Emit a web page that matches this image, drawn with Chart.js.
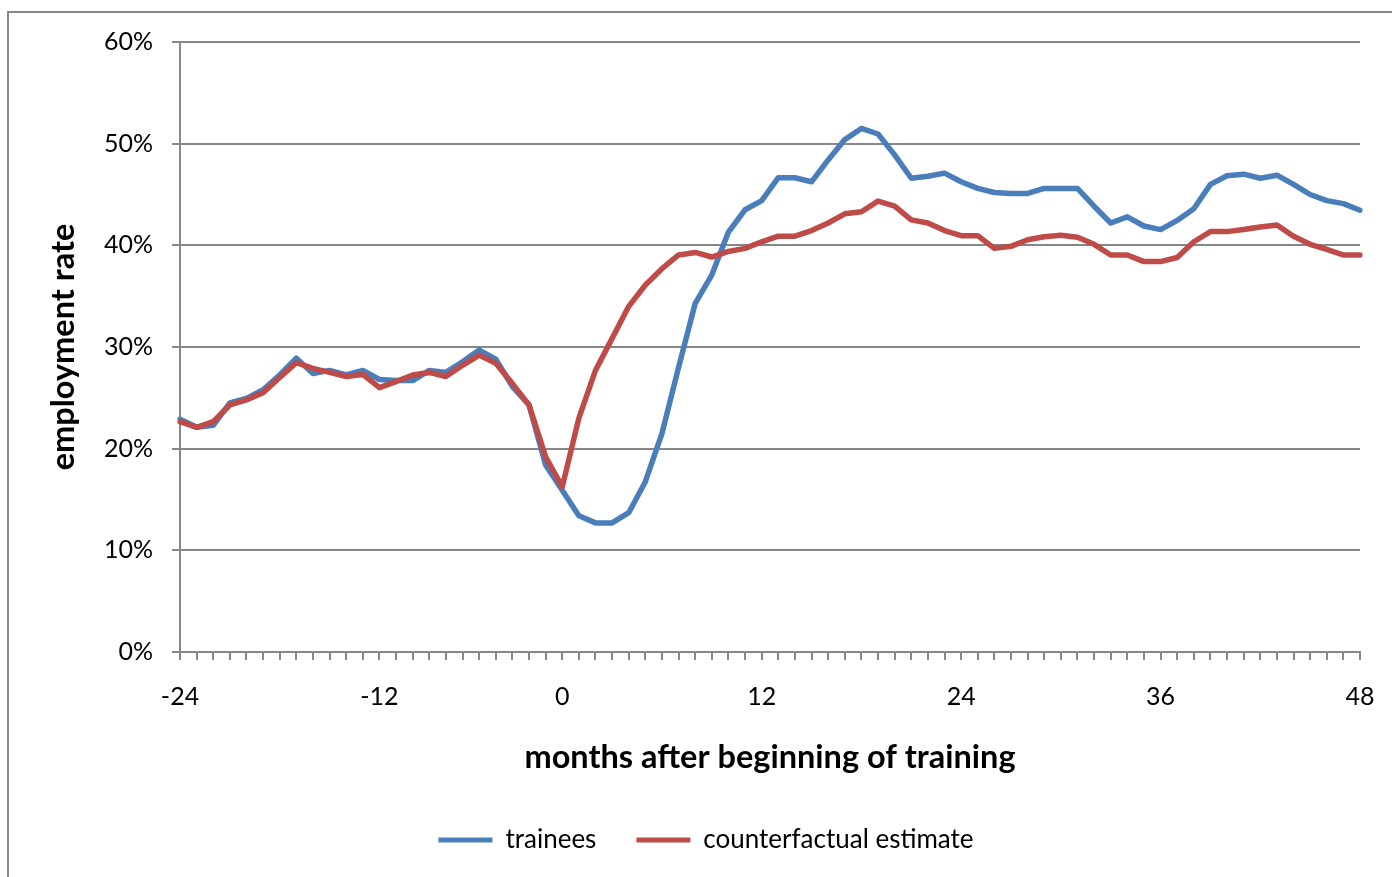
<!DOCTYPE html>
<html>
<head>
<meta charset="utf-8">
<script src="https://cdn.jsdelivr.net/npm/chart.js@4/dist/chart.umd.min.js"></script>
<style>
  html, body { margin: 0; padding: 0; background: #fff; }
  #wrap { position: relative; width: 1392px; height: 877px; }
</style>
</head>
<body>
<div id="wrap"><canvas id="c" width="1392" height="877"></canvas></div>
<script>
// months after beginning of training (category positions as in the original axis)
const months = [-24,-23,-22,-21,-20,-19,-18,-17,-16,-15,-14,-13,-12,-11,-10,-9,-8,-7,-6,-5,-4,-3,-2,
  0,1,2,3,4,5,6,7,8,9,10,11,12,13,14,15,16,17,18,19,20,21,22,23,24,25,26,27,28,29,30,31,32,33,34,35,36,
  37,38,39,40,41,42,43,44,45,46,47,48];
const tickLabels = ["-24","-12","0","12","24","36","48"];
const yTicks = [0,10,20,30,40,50,60];

const trainees = [22.9,22.1,22.3,24.5,24.95,25.8,27.25,28.9,27.4,27.7,27.25,27.7,26.8,26.7,26.7,27.7,27.5,28.55,29.7,28.8,26.1,24.3,18.4,
  15.9,13.4,12.7,12.7,13.7,16.75,21.5,28.0,34.3,37.1,41.3,43.5,44.4,46.65,46.65,46.25,48.4,50.4,51.5,50.95,48.9,46.6,46.8,47.1,46.25,
  45.6,45.2,45.1,45.1,45.6,45.6,45.6,43.85,42.2,42.8,41.9,41.55,42.45,43.6,46.0,46.85,47.0,46.6,46.9,46.0,45.0,44.4,44.1,43.45];
const counterfactual = [22.65,22.1,22.65,24.3,24.8,25.5,27.0,28.45,27.9,27.5,27.1,27.3,26.0,26.6,27.25,27.5,27.1,28.2,29.2,28.4,26.4,24.3,19.2,
  16.25,23.0,27.7,30.85,34.0,36.1,37.7,39.05,39.3,38.85,39.4,39.7,40.35,40.9,40.9,41.45,42.2,43.1,43.3,44.35,43.85,42.5,42.2,41.45,40.95,
  40.95,39.7,39.9,40.55,40.85,41.0,40.8,40.1,39.05,39.05,38.4,38.4,38.8,40.35,41.35,41.35,41.55,41.8,42.0,40.9,40.1,39.6,39.05,39.05];

const seriesNames = ["trainees", "counterfactual estimate"];
const BLUE = "#4A7EBB", RED = "#BE4B48", GRID = "#878787";
const FONT = "Lato";

const borderPlugin = {
  id: 'outerBorder',
  beforeDraw(chart) {
    const ctx = chart.ctx;
    ctx.save();
    ctx.strokeStyle = GRID;
    ctx.lineWidth = 2;
    ctx.beginPath();
    ctx.moveTo(8, 877);
    ctx.lineTo(8, 12);
    ctx.lineTo(1392, 12);
    ctx.stroke();
    ctx.restore();
  }
};

new Chart(document.getElementById('c'), {
  type: 'line',
  data: {
    labels: months.map(String),
    datasets: [
      { label: seriesNames[0], data: trainees, borderColor: BLUE, backgroundColor: BLUE, order: 1 },
      { label: seriesNames[1], data: counterfactual, borderColor: RED, backgroundColor: RED, order: 0 }
    ]
  },
  options: {
    responsive: false,
    animation: false,
    devicePixelRatio: 1,
    layout: { padding: { left: 52, right: 32, top: 42, bottom: 14 } },
    elements: {
      line: { borderWidth: 5.5, tension: 0, fill: false, borderJoinStyle: 'round', borderCapStyle: 'round' },
      point: { radius: 0, hoverRadius: 0 }
    },
    plugins: {
      tooltip: { enabled: false },
      legend: {
        position: 'bottom',
        labels: {
          font: { family: FONT, size: 26 },
          color: '#000',
          boxWidth: 54,
          boxHeight: 5,
          padding: 40,
          sort: (a, b) => a.datasetIndex - b.datasetIndex,
          generateLabels(chart) {
            return chart.data.datasets.map((ds, i) => ({
              text: ds.label,
              fillStyle: ds.borderColor,
              strokeStyle: ds.borderColor,
              lineWidth: 0,
              hidden: false,
              datasetIndex: i,
              fontColor: '#000'
            }));
          }
        }
      }
    },
    scales: {
      x: {
        type: 'category',
        offset: false,
        afterFit(scale) { scale.height = 135; scale.paddingLeft = 0; scale.paddingRight = 0; },
        grid: { drawOnChartArea: false, drawTicks: true, tickLength: 8, color: GRID, lineWidth: 2 },
        border: { display: true, color: GRID, width: 2 },
        ticks: {
          autoSkip: false, maxRotation: 0, minRotation: 0, padding: 22,
          color: '#000', font: { family: FONT, size: 25 },
          callback(value) {
            const l = this.getLabelForValue(value);
            return tickLabels.includes(l) ? l : '';
          }
        },
        title: {
          display: true, text: 'months after beginning of training',
          color: '#000', font: { family: FONT, size: 32.5, weight: 'bold' },
          padding: { top: 0, bottom: 10 }
        }
      },
      y: {
        min: 0, max: 60,
        afterFit(scale) { scale.width = 128; },
        afterBuildTicks(scale) { scale.ticks = yTicks.map(v => ({ value: v })); },
        grid: { color: GRID, lineWidth: 2, tickLength: 8, drawTicks: true },
        border: { display: true, color: GRID, width: 2 },
        ticks: {
          stepSize: 10, padding: 19, color: '#000', font: { family: FONT, size: 25 },
          callback: v => v + '%'
        },
        title: {
          display: true, text: 'employment rate',
          color: '#000', font: { family: FONT, size: 32.5, weight: 'bold', lineHeight: 0.7 },
          padding: 0
        }
      }
    }
  },
  plugins: [borderPlugin]
});
</script>
</body>
</html>
